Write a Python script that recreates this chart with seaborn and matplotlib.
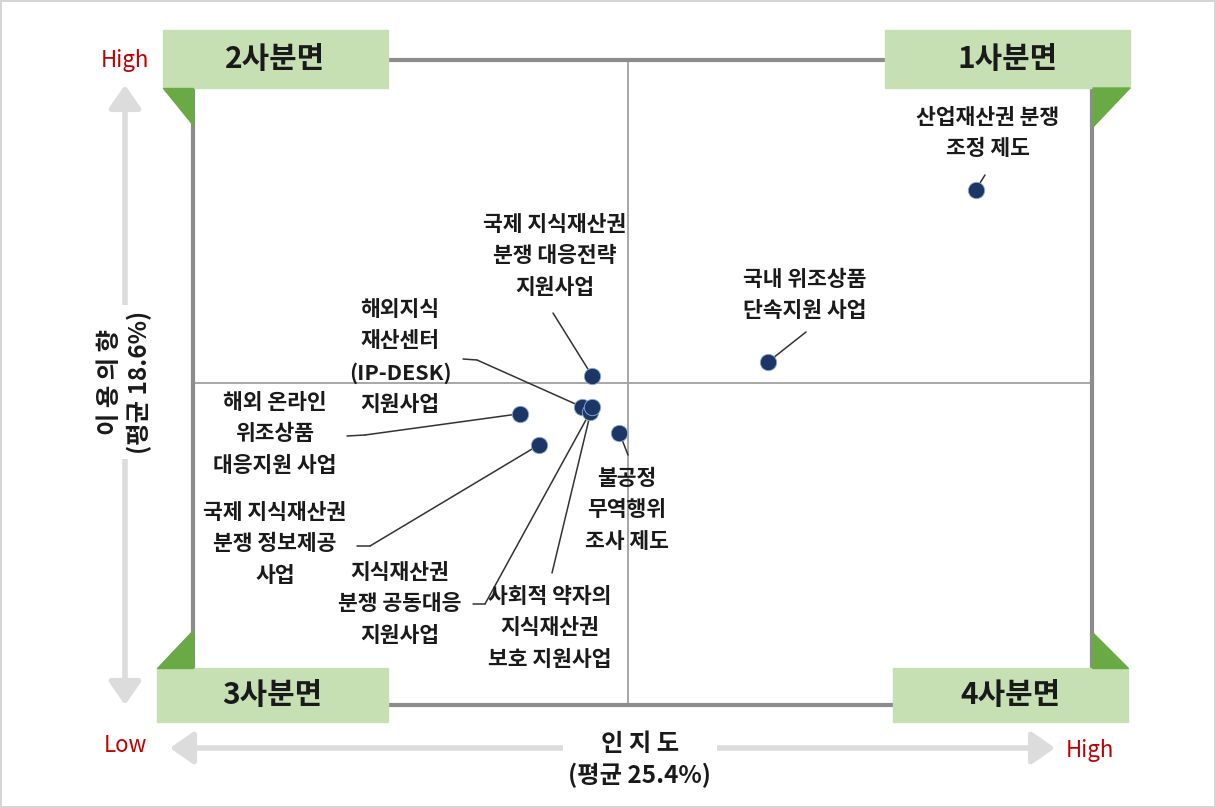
import matplotlib
matplotlib.use('Agg')
import matplotlib.pyplot as plt
from matplotlib.patches import Rectangle, Polygon, FancyArrowPatch
from matplotlib.lines import Line2D
import pandas as pd
import seaborn as sns

# ------------------ DATA ------------------
programs = [
    "산업재산권 분쟁\n조정 제도",
    "국내 위조상품\n단속지원 사업",
    "국제 지식재산권\n분쟁 대응전략\n지원사업",
    "해외지식\n재산센터\n(IP-DESK)\n지원사업",
    "지식재산권\n분쟁 공동대응\n지원사업",
    "사회적 약자의\n지식재산권\n보호 지원사업",
    "해외 온라인\n위조상품\n대응지원 사업",
    "국제 지식재산권\n분쟁 정보제공\n사업",
    "불공정\n무역행위\n조사 제도",
]
awareness = [45.7, 33.6, 23.3, 22.7, 23.2, 23.3, 19.1, 20.2, 24.9]   # 인지도 (%)
intention = [29.7, 19.8, 19.0, 17.2, 16.9, 17.2, 16.8, 15.0, 15.7]   # 이용의향 (%)
avg_awareness = 25.4
avg_intention = 18.6
quadrants = ["1사분면", "2사분면", "3사분면", "4사분면"]

df = pd.DataFrame({"program": programs, "x": awareness, "y": intention})

# ------------------ LAYOUT (pixels, top-left origin) ------------------
W, H = 1216, 808
# label centre, leader line path from label towards the point
label_layout = [
    ((988, 133), [(985, 175)]),
    ((805, 295), [(806, 332)]),
    ((555, 256), [(553, 313)]),
    ((400, 357), [(463, 359), (477, 360)]),
    ((400, 604), [(473, 604), (485, 604)]),
    ((550, 628), [(552, 573)]),
    ((275, 434), [(347, 436), (365, 435)]),
    ((275, 544), [(357, 546), (370, 546)]),
    ((627, 510), [(628, 455)]),
]


def fx(px):
    return px / W


def fy(py):
    return 1 - py / H


sns.set_style('white')
plt.rcParams['font.family'] = ['Noto Sans CJK KR', 'DejaVu Sans']

fig = plt.figure(figsize=(12.16, 8.08), dpi=100)
fig.patch.set_edgecolor('#d5d5d5')
fig.patch.set_linewidth(1.5)

ax = fig.add_axes([fx(193), fy(705), fx(1092) - fx(193), fy(60) - fy(705)])
ax.set_xlim(0, 52.5)
ax.set_ylim(0, 37.2)
ax.set_xticks([])
ax.set_yticks([])
for s in ax.spines.values():
    s.set_color('#8c8c8c')
    s.set_linewidth(3)
ax.axvline(avg_awareness, color='#a0a0a0', lw=1.3, zorder=1)
ax.axhline(avg_intention, color='#a0a0a0', lw=1.3, zorder=1)

# leader lines
for (x, y), (_, path) in zip(zip(awareness, intention), label_layout):
    pts = [(fx(px), fy(py)) for px, py in path]
    if len(pts) > 1:
        fig.add_artist(Line2D([p[0] for p in pts], [p[1] for p in pts],
                              color='#333333', lw=1.1, transform=fig.transFigure))
    ax.annotate('', xy=(x, y), xycoords='data',
                xytext=pts[-1], textcoords='figure fraction',
                arrowprops=dict(arrowstyle='-', color='#333333', lw=1.1,
                                shrinkA=0, shrinkB=0), zorder=2)

sns.scatterplot(data=df, x='x', y='y', ax=ax, s=140, color='#1c3766',
                edgecolor='#8fb0d8', linewidth=0.6, zorder=3, legend=False)
ax.set_xlabel('')
ax.set_ylabel('')

for name, ((cx, cy), _) in zip(programs, label_layout):
    fig.text(fx(cx), fy(cy), name, ha='center', va='center', fontsize=15.5,
             fontweight='bold', linespacing=1.6, color='#1a1a1a')

# ------------------ QUADRANT BOXES ------------------
box_green = '#c6e0b4'
tri_green = '#6aaa44'
boxes = [
    (quadrants[1], (163, 30, 388, 88)),
    (quadrants[0], (885, 30, 1130, 88)),
    (quadrants[2], (157, 668, 388, 722)),
    (quadrants[3], (893, 668, 1128, 722)),
]
for label, (x0, y0, x1, y1) in boxes:
    fig.add_artist(Rectangle((fx(x0), fy(y1)), fx(x1) - fx(x0), fy(y0) - fy(y1),
                             transform=fig.transFigure, color=box_green, zorder=3))
    fig.text(fx((x0 + x1) / 2), fy((y0 + y1) / 2), label, ha='center', va='center',
             fontsize=21.5, fontweight='bold', color='#1a1a1a', zorder=4)

triangles = [
    [(163, 88), (193, 88), (193, 125)],
    [(1093, 88), (1130, 88), (1093, 127)],
    [(157, 668), (193, 668), (193, 630)],
    [(1092, 632), (1092, 668), (1128, 668)],
]
for tri in triangles:
    fig.add_artist(Polygon([(fx(a), fy(b)) for a, b in tri], closed=True,
                           transform=fig.transFigure, color=tri_green, zorder=3))

# ------------------ AXIS ARROWS ------------------
arrow_kw = dict(arrowstyle='<|-|>,head_width=0.7,head_length=1.0', color='#dcdcdc',
                lw=4, shrinkA=0, shrinkB=0)
fig.add_artist(FancyArrowPatch((fx(170), fy(748)), (fx(1055), fy(748)),
                               transform=fig.transFigure, mutation_scale=14, **arrow_kw))
fig.add_artist(FancyArrowPatch((fx(125), fy(85)), (fx(125), fy(705)),
                               transform=fig.transFigure, mutation_scale=14, **arrow_kw))

fig.text(fx(640), fy(760), "인 지 도\n(평균 25.4%)", ha='center', va='center', fontsize=17.5,
         fontweight='bold', linespacing=1.3, color='#1a1a1a',
         bbox=dict(facecolor='white', edgecolor='none', pad=4), zorder=5)
fig.text(fx(125), fy(382), "이 용 의 향\n(평균 18.6%)", ha='center', va='center', fontsize=17.5,
         fontweight='bold', linespacing=1.2, rotation=90, color='#1a1a1a',
         bbox=dict(facecolor='white', edgecolor='none', pad=4), zorder=5)

red = '#c00000'
fig.text(fx(125), fy(60), "High", ha='center', va='center', fontsize=16, color=red)
fig.text(fx(125), fy(745), "Low", ha='center', va='center', fontsize=16, color=red)
fig.text(fx(1090), fy(751), "High", ha='center', va='center', fontsize=16, color=red)

plt.savefig('out.png', dpi=100)
